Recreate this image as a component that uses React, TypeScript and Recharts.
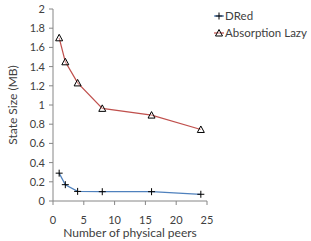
import { LineChart, Line, XAxis, YAxis, Legend } from "recharts";

const peers = [1, 2, 4, 8, 16, 24];
const dredSize = [0.29, 0.17, 0.1, 0.097, 0.097, 0.07];
const absorptionLazySize = [1.7, 1.45, 1.23, 0.965, 0.895, 0.745];
const xTicks = [0, 5, 10, 15, 20, 25];
const yTicks = [0, 0.2, 0.4, 0.6, 0.8, 1, 1.2, 1.4, 1.6, 1.8, 2];

const data = peers.map((p, i) => ({
  peers: p,
  dred: dredSize[i],
  lazy: absorptionLazySize[i],
}));

const FONT = "Lato, 'Noto Sans', sans-serif";
const TEXT = "#404040";
const AXIS = "#868686";
const BLUE = "#4f81bd";
const RED = "#c0504d";

const PlusDot = (props: any) => {
  const { cx, cy } = props;
  if (cx == null || cy == null) return null;
  return (
    <g stroke="#000" strokeWidth={1}>
      <line x1={cx - 3.5} y1={cy} x2={cx + 3.5} y2={cy} />
      <line x1={cx} y1={cy - 3.5} x2={cx} y2={cy + 3.5} />
    </g>
  );
};

const TriDot = (props: any) => {
  const { cx, cy } = props;
  if (cx == null || cy == null) return null;
  return (
    <path
      d={`M${cx},${cy - 3.5} L${cx + 3.5},${cy + 3} L${cx - 3.5},${cy + 3} Z`}
      fill="#fff"
      fillOpacity={0.4}
      stroke="#000"
      strokeWidth={1}
    />
  );
};

const renderLegend = () => (
  <div style={{ fontFamily: FONT, fontSize: 11.5, color: TEXT, lineHeight: "17px" }}>
    <div style={{ display: "flex", alignItems: "center" }}>
      <svg width={10} height={10} style={{ marginRight: 1 }}>
        <line x1={0} y1={5} x2={10} y2={5} stroke={BLUE} strokeWidth={1.25} />
        <PlusDot cx={5} cy={5} />
      </svg>
      DRed
    </div>
    <div style={{ display: "flex", alignItems: "center" }}>
      <svg width={10} height={10} style={{ marginRight: 1 }}>
        <line x1={0} y1={5} x2={10} y2={5} stroke={RED} strokeWidth={1.25} />
        <TriDot cx={5} cy={5} />
      </svg>
      Absorption Lazy
    </div>
  </div>
);

export default function App() {
  return (
    <div style={{ position: "fixed", left: 0, top: 0, background: "#fff" }}>
      <LineChart width={311} height={241} data={data} margin={{ top: 9, right: 4, left: 0, bottom: 0 }}>
        <XAxis
          dataKey="peers"
          type="number"
          domain={[0, 25]}
          ticks={xTicks}
          interval={0}
          stroke={AXIS}
          tickSize={4}
          tickMargin={11}
          height={40}
          tick={{ fill: TEXT, fontSize: 11, fontFamily: FONT }}
          label={{ value: "Number of physical peers", position: "insideBottom", offset: 4, fill: TEXT, fontSize: 12, fontFamily: FONT }}
        />
        <YAxis
          type="number"
          domain={[0, 2]}
          ticks={yTicks}
          interval={0}
          stroke={AXIS}
          tickSize={4}
          tickMargin={4}
          width={53}
          tick={{ fill: TEXT, fontSize: 11, fontFamily: FONT }}
          label={{ value: "State Size (MB)", angle: -90, position: "insideLeft", offset: 13, fill: TEXT, fontSize: 12, fontFamily: FONT, style: { textAnchor: "middle" } }}
        />
        <Legend content={renderLegend} layout="vertical" verticalAlign="top" align="right" wrapperStyle={{ top: 7, left: 214, width: 100 }} />
        <Line dataKey="dred" name="DRed" stroke={BLUE} strokeWidth={1.25} dot={<PlusDot />} isAnimationActive={false} />
        <Line dataKey="lazy" name="Absorption Lazy" stroke={RED} strokeWidth={1.25} dot={<TriDot />} isAnimationActive={false} />
      </LineChart>
    </div>
  );
}
